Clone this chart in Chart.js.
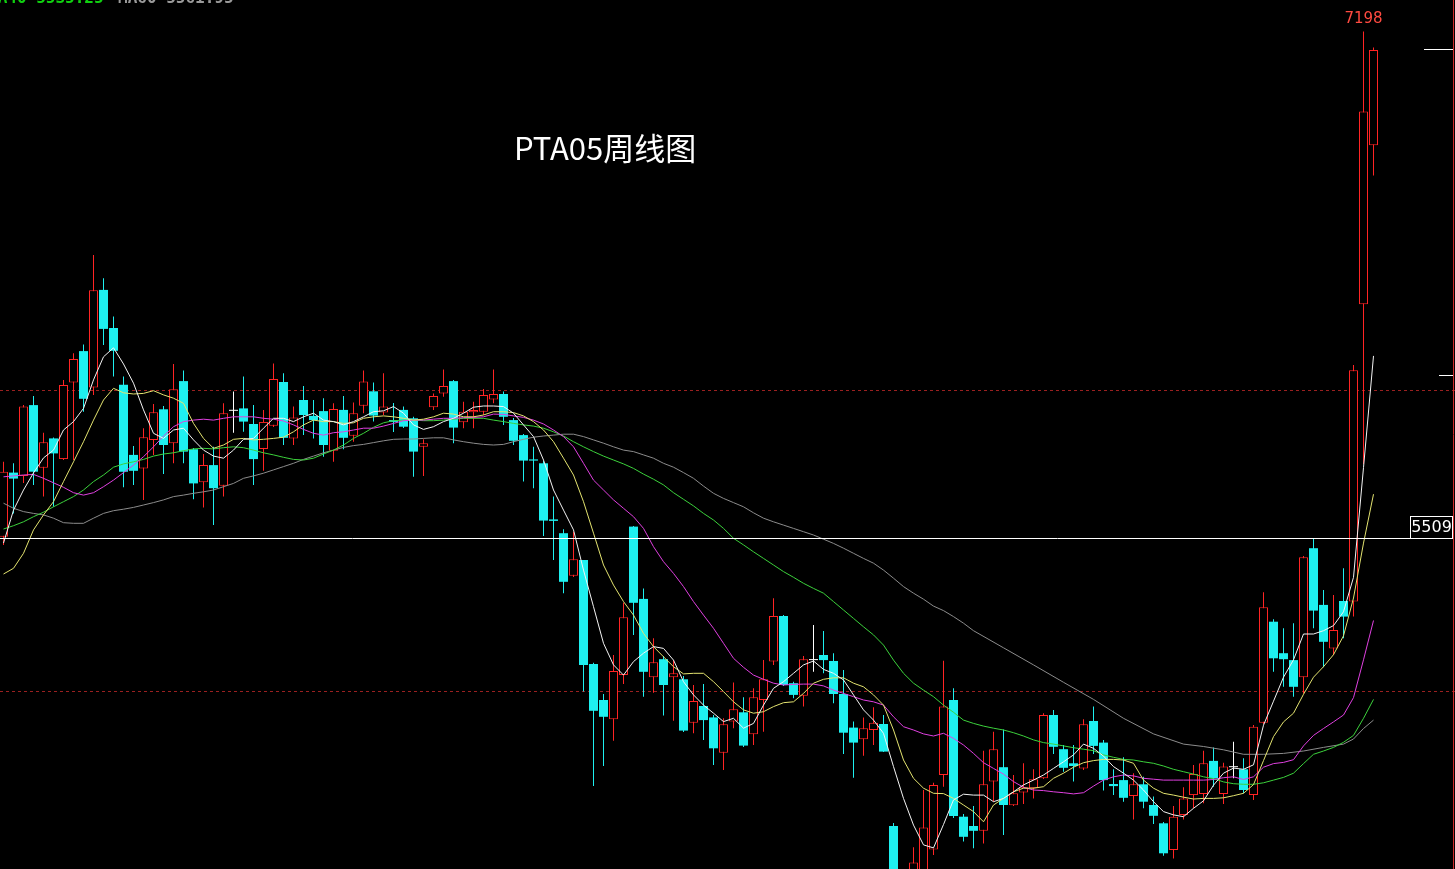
<!DOCTYPE html>
<html>
<head>
<meta charset="utf-8">
<script src="https://cdn.jsdelivr.net/npm/chart.js@4.4.0/dist/chart.umd.min.js"></script>
<style>
    html, body { margin: 0; padding: 0; background: #000; overflow: hidden; }
    #wrap { position: relative; width: 1455px; height: 869px; background: #000; }
</style>
</head>
<body>
<div id="wrap"><canvas id="myChart"></canvas></div>
<script>
    // weekly candles, one per week, left to right
    var opens = [5514,5728,5717,5953,5744,5842,5773,6028,6133,6012,
        6337,6210,6021,5787,5742,5837,5939,5826,6033,5806,
        5696,5753,5684,5934,5942,5890,5807,5884,6030,5842,
        5970,5917,5933,5801,5937,5851,5951,5999,5928,5903,
        5937,5909,5814,5946,5992,6033,5896,5929,5931,5972,
        5990,5903,5853,5772,5759,5572,5526,5384,5437,5090,
        4970,4906,5053,5548,5307,5046,5106,5046,5039,4894,
        4950,4912,4794,4898,4929,4856,4970,5098,5250,5026,
        4984,5103,5120,5100,4990,4878,4839,4870,4890,4550,
        4350,4360,4390,4472,4720,4970,4581,4550,4534,4698,
        4746,4619,4662,4676,4709,4920,4806,4759,4742,4900,
        4828,4690,4703,4650,4689,4620,4559,4470,4587,4653,
        4657,4767,4657,4746,4739,4653,4894,5231,5126,5103,
        5046,5476,5287,5142,5300,5298,6289,6819];
    var highs = [5764,5759,5953,5983,5861,5845,6037,6126,6155,6453,
        6376,6248,6048,5817,5876,5957,5950,6090,6068,5810,
        5790,5814,5959,5998,6048,5953,5937,6092,6059,5948,
        6017,5970,5976,5959,5983,5962,6068,6028,6059,5960,
        5948,5914,5839,5992,6072,6037,5964,5964,6007,6072,
        5998,5910,5857,5814,5767,5648,5539,5531,5437,5094,
        4990,5120,5294,5550,5342,5176,5117,5103,5050,5020,
        5023,4920,4909,5028,4979,5009,5103,5309,5253,5031,
        5117,5220,5200,5126,5070,4898,4912,4946,4920,4560,
        4395,4479,4670,4694,5101,5009,4590,4617,4801,4864,
        4872,4720,4759,4739,4926,4937,4820,4820,4906,4948,
        4837,4739,4779,4726,4714,4648,4563,4617,4679,4753,
        4801,4812,4761,4831,4776,4887,5329,5239,5209,5226,
        5450,5509,5337,5320,5409,6087,7198,7145];
    var lows = [5487,5592,5693,5687,5648,5614,5770,5770,5931,5987,
        6153,6048,5679,5687,5637,5787,5723,5759,5759,5639,
        5612,5553,5648,5861,5864,5687,5734,5880,5820,5820,
        5853,5842,5781,5764,5806,5831,5926,5898,5920,5863,
        5877,5714,5717,5937,5981,5826,5876,5876,5920,5959,
        5887,5820,5698,5676,5517,5437,5326,5380,4998,4683,
        4750,4834,5023,5187,4981,4994,4918,4901,4863,4859,
        4837,4753,4737,4876,4813,4820,4864,5087,5017,4976,
        4948,5064,5059,4959,4790,4711,4784,4820,4797,4320,
        4270,4340,4370,4453,4681,4577,4498,4476,4492,4631,
        4520,4617,4623,4642,4707,4790,4731,4698,4737,4790,
        4668,4653,4631,4572,4609,4557,4451,4442,4572,4609,
        4626,4681,4623,4709,4659,4637,4890,5064,5014,4981,
        4992,5209,5079,5120,5176,5248,5757,6718];
    var closes = [5731,5708,5948,5731,5829,5792,6020,6107,5974,6336,
        6207,6134,5731,5734,5846,5929,5820,6006,5798,5692,
        5753,5676,5926,5934,5898,5773,5897,6040,5844,5912,
        5920,5903,5820,5940,5844,5926,6032,5918,5948,5897,
        5881,5798,5826,5983,6017,5878,5931,5937,5987,5990,
        5914,5834,5768,5768,5568,5567,5364,5439,5087,4934,
        4914,5067,5246,5294,5064,5096,5020,5059,4868,4967,
        4903,4809,4889,4939,4818,4979,5039,5250,5020,4987,
        5106,5103,5103,4990,4861,4828,4876,4894,4798,4345,
        4300,4428,4545,4687,4948,4583,4514,4534,4689,4806,
        4620,4659,4679,4706,4920,4814,4744,4750,4889,4817,
        4703,4683,4644,4689,4631,4584,4459,4581,4642,4723,
        4759,4709,4748,4746,4670,4881,5279,5109,5106,5014,
        5446,5268,5164,5203,5248,6069,6932,7137];

    // moving average lines
    var ma5 = [5493,5603,5670,5727,5777,5803,5870,5898,5942,6037,
        6114,6144,6090,6026,5937,5859,5842,5870,5876,5837,
        5803,5783,5776,5803,5839,5842,5876,5909,5909,5898,
        5914,5926,5903,5898,5887,5898,5914,5931,5934,5948,
        5926,5887,5872,5881,5898,5909,5926,5946,5950,5950,
        5948,5926,5887,5848,5770,5670,5603,5537,5403,5281,
        5159,5087,5053,5098,5126,5148,5142,5103,5031,4987,
        4953,4926,4898,4909,4876,4892,4953,5009,5031,5059,
        5087,5100,5072,5059,5037,4987,4937,4903,4859,4748,
        4642,4553,4487,4477,4555,4637,4656,4653,4653,4631,
        4642,4664,4687,4703,4720,4742,4764,4787,4823,4809,
        4783,4748,4726,4703,4670,4631,4598,4587,4581,4609,
        4634,4686,4726,4743,4739,4754,4886,4966,5046,5104,
        5190,5190,5201,5218,5264,5379,5745,6117];
    var ma10 = [5390,5409,5459,5537,5587,5631,5698,5764,5831,5903,
        5970,6009,5994,5990,5992,6001,5987,5976,5959,5892,
        5842,5809,5820,5839,5842,5837,5839,5842,5846,5864,
        5887,5903,5898,5898,5892,5894,5909,5914,5917,5914,
        5909,5903,5906,5914,5926,5923,5914,5914,5920,5931,
        5931,5928,5917,5898,5870,5831,5776,5720,5631,5526,
        5420,5353,5298,5253,5192,5148,5114,5081,5057,5059,
        5059,5031,4998,4964,4937,4926,4931,4948,4961,4964,
        4992,5026,5039,5044,5044,5026,5014,4987,4953,4870,
        4770,4709,4676,4659,4658,4642,4620,4598,4564,4620,
        4642,4664,4676,4676,4681,4709,4726,4746,4761,4768,
        4772,4772,4770,4759,4703,4676,4659,4653,4646,4640,
        4642,4642,4644,4651,4659,4688,4768,4848,4897,4926,
        4989,5046,5081,5121,5184,5310,5493,5656];
    var ma20 = [5714,5717,5720,5722,5709,5694,5679,5661,5653,5661,
        5681,5703,5728,5753,5781,5814,5850,5881,5898,5903,
        5906,5903,5909,5914,5914,5914,5909,5906,5900,5887,
        5872,5859,5853,5861,5864,5870,5876,5876,5883,5892,
        5901,5903,5903,5906,5909,5909,5911,5912,5914,5923,
        5922,5917,5912,5903,5890,5870,5848,5814,5759,5703,
        5670,5637,5609,5581,5542,5481,5431,5392,5348,5298,
        5253,5209,5159,5109,5079,5053,5039,5026,5020,5022,
        5023,5023,5017,5003,4992,4981,4970,4964,4953,4914,
        4881,4870,4857,4850,4859,4842,4820,4792,4761,4742,
        4723,4698,4679,4670,4668,4664,4661,4657,4661,4683,
        4703,4714,4720,4717,4709,4706,4703,4703,4703,4703,
        4703,4705,4711,4714,4705,4714,4746,4758,4762,4771,
        4817,4852,4875,4897,4920,4978,5104,5235];
    var ma40 = [5540,5551,5564,5581,5596,5614,5631,5648,5670,5698,
        5720,5746,5757,5764,5772,5783,5790,5794,5801,5807,
        5809,5807,5811,5814,5811,5803,5794,5787,5779,5772,
        5770,5776,5790,5803,5820,5842,5859,5879,5894,5901,
        5903,5903,5901,5901,5903,5906,5909,5909,5909,5903,
        5898,5892,5887,5883,5876,5864,5850,5831,5814,5798,
        5783,5770,5757,5742,5723,5706,5687,5661,5639,5617,
        5592,5570,5542,5509,5487,5464,5442,5420,5398,5379,
        5359,5342,5326,5298,5270,5242,5214,5187,5153,5103,
        5059,5026,5003,4981,4953,4929,4903,4892,4883,4876,
        4870,4861,4850,4837,4828,4823,4817,4811,4806,4801,
        4787,4779,4772,4770,4764,4759,4750,4739,4731,4723,
        4714,4708,4697,4691,4689,4689,4694,4703,4712,4726,
        4758,4789,4800,4812,4829,4852,4909,4972];
    var ma60Weeks = [];
    for (var w = 0; w <= 96; w++) { ma60Weeks.push(w); }
    ma60Weeks = ma60Weeks.concat([97,100,103,106,109,112,115,118,120,122,124,126,128,130,132,134,135,136,137]);
    var ma60 = [5626,5609,5598,5592,5587,5576,5561,5559,5559,5576,
        5592,5601,5606,5612,5620,5628,5637,5648,5653,5659,
        5664,5670,5681,5692,5709,5717,5726,5737,5748,5759,
        5772,5783,5794,5803,5812,5818,5822,5828,5834,5839,
        5840,5840,5842,5844,5844,5837,5831,5826,5822,5820,
        5822,5831,5839,5846,5850,5853,5856,5856,5848,5837,
        5826,5814,5803,5798,5787,5776,5759,5746,5728,5709,
        5683,5659,5642,5628,5614,5594,5576,5564,5553,5542,
        5531,5520,5506,5492,5476,5459,5442,5426,5403,5376,
        5348,5326,5306,5283,5268,5248,5226,
        5201,5144,5087,5029,4972,4909,4857,4823,4815,4804,
        4789,4789,4792,4800,4812,4823,4840,4875,4903];

    var dashedPrices = [6000, 5000];
    var markPrice = 5509;
    var peakPrice = 7198;
    var sideTicks = [7137, 6053];
    var titleText = 'PTA05周线图';
    var topTexts = ['MA40 5535.25', 'MA60 5561.95'];

    var upColor = '#ff2424';
    var downColor = '#1ef0f0';
    var dojiColor = '#ffffff';

    var bodies = [], wicks = [];
    var bodyFill = [], bodyEdge = [], bodyEdgeWidth = [], wickColor = [];
    for (var i = 0; i < opens.length; i++) {
        bodies.push({x: i, y: [Math.min(opens[i], closes[i]), Math.max(opens[i], closes[i])]});
        wicks.push({x: i, y: [lows[i], highs[i]]});
        var col = dojiColor;
        if (closes[i] > opens[i]) col = upColor;
        if (closes[i] < opens[i]) col = downColor;
        wickColor.push(col);
        bodyEdge.push(col);
        bodyFill.push(col === upColor ? '#000000' : col);
        bodyEdgeWidth.push(col === upColor ? 1 : 0);
    }

    function lineData(vals, xs) {
        var out = [];
        vals.forEach(function (v, j) {
            out.push({x: xs ? xs[j] : j, y: v});
        });
        return out;
    }

    function maSet(label, vals, color, xs) {
        return {
            type: 'line',
            label: label,
            data: lineData(vals, xs),
            borderColor: color,
            borderWidth: 1,
            pointRadius: 0,
            fill: false,
            tension: 0,
            order: 1
        };
    }

    var overlay = {
        id: 'overlay',
        beforeDatasetsDraw: function (chart) {
            var ctx = chart.ctx, y = chart.scales.y, w = chart.width;
            ctx.save();
            ctx.strokeStyle = '#9a2020';
            ctx.lineWidth = 1;
            ctx.setLineDash([3, 3]);
            dashedPrices.forEach(function (p) {
                var py = Math.floor(y.getPixelForValue(p)) + 0.5;
                ctx.beginPath();
                ctx.moveTo(0, py);
                ctx.lineTo(w, py);
                ctx.stroke();
            });
            ctx.restore();
        },
        afterDatasetsDraw: function (chart) {
            var ctx = chart.ctx, x = chart.scales.x, y = chart.scales.y, h = chart.height;
            ctx.save();
            // 5509 line and its box
            var py = Math.floor(y.getPixelForValue(markPrice)) + 0.5;
            ctx.strokeStyle = '#ffffff';
            ctx.lineWidth = 1;
            ctx.beginPath();
            ctx.moveTo(0, py);
            ctx.lineTo(1410, py);
            ctx.stroke();
            ctx.strokeRect(1410.5, py - 22, 42, 22);
            ctx.fillStyle = '#ffffff';
            ctx.font = '16px "DejaVu Sans"';
            ctx.textAlign = 'center';
            ctx.textBaseline = 'middle';
            ctx.fillText(String(markPrice), 1431.5, py - 10.5);

            // highest price label
            ctx.font = '15px "DejaVu Sans"';
            ctx.fillStyle = '#ff4a40';
            ctx.fillText(String(peakPrice), x.getPixelForValue(highs.indexOf(peakPrice)), y.getPixelForValue(peakPrice) - 12);

            // short ticks at the right
            ctx.strokeStyle = '#ffffff';
            ctx.beginPath();
            var t0 = Math.floor(y.getPixelForValue(sideTicks[0])) + 0.5;
            ctx.moveTo(1424, t0); ctx.lineTo(1453, t0);
            var t1 = Math.floor(y.getPixelForValue(sideTicks[1])) + 0.5;
            ctx.moveTo(1439, t1); ctx.lineTo(1453, t1);
            ctx.stroke();

            // right border
            ctx.strokeStyle = '#d02a2a';
            ctx.beginPath();
            ctx.moveTo(1453.5, 0); ctx.lineTo(1453.5, h);
            ctx.stroke();

            // title
            ctx.fillStyle = '#ffffff';
            ctx.font = '31px "Noto Sans CJK SC"';
            ctx.textAlign = 'left';
            ctx.textBaseline = 'middle';
            ctx.fillText(titleText, 514, 148);

            // cut-off legend text at the very top
            ctx.font = 'bold 16px "DejaVu Sans Mono"';
            ctx.textBaseline = 'alphabetic';
            ctx.fillStyle = '#10d010';
            ctx.fillText(topTexts[0], -12, 3);
            ctx.fillStyle = '#9a9a9a';
            ctx.fillText(topTexts[1], 118, 3);
            ctx.restore();
        }
    };

    var ctx = document.getElementById('myChart');
    var myChart = new Chart(ctx, {
        type: 'bar',
        data: {
            datasets: [
                maSet('MA5', ma5, '#f4f4f4'),
                maSet('MA10', ma10, '#e4e470'),
                maSet('MA20', ma20, '#e040e0'),
                maSet('MA40', ma40, '#3cd23c'),
                maSet('MA60', ma60, '#8c8c8c', ma60Weeks),
                {
                    label: 'body',
                    data: bodies,
                    grouped: false,
                    barThickness: 9,
                    minBarLength: 1,
                    inflateAmount: 0,
                    borderSkipped: false,
                    backgroundColor: bodyFill,
                    hoverBackgroundColor: bodyFill,
                    borderColor: bodyEdge,
                    hoverBorderColor: bodyEdge,
                    borderWidth: bodyEdgeWidth,
                    order: 2
                },
                {
                    label: 'wick',
                    data: wicks,
                    grouped: false,
                    barThickness: 1,
                    inflateAmount: 0,
                    borderWidth: 0,
                    backgroundColor: wickColor,
                    hoverBackgroundColor: wickColor,
                    order: 3
                }
            ]
        },
        options: {
            responsive: true,
            maintainAspectRatio: false,
            devicePixelRatio: 1,
            animation: false,
            events: [],
            layout: { padding: 0 },
            plugins: { legend: { display: false }, tooltip: { enabled: false } },
            scales: {
                x: { type: 'linear', min: -0.35, max: 145.15, offset: false, display: false },
                y: { min: 4406.67, max: 7303.33, display: false }
            }
        },
        plugins: [overlay]
    });
</script>
</body>
</html>
